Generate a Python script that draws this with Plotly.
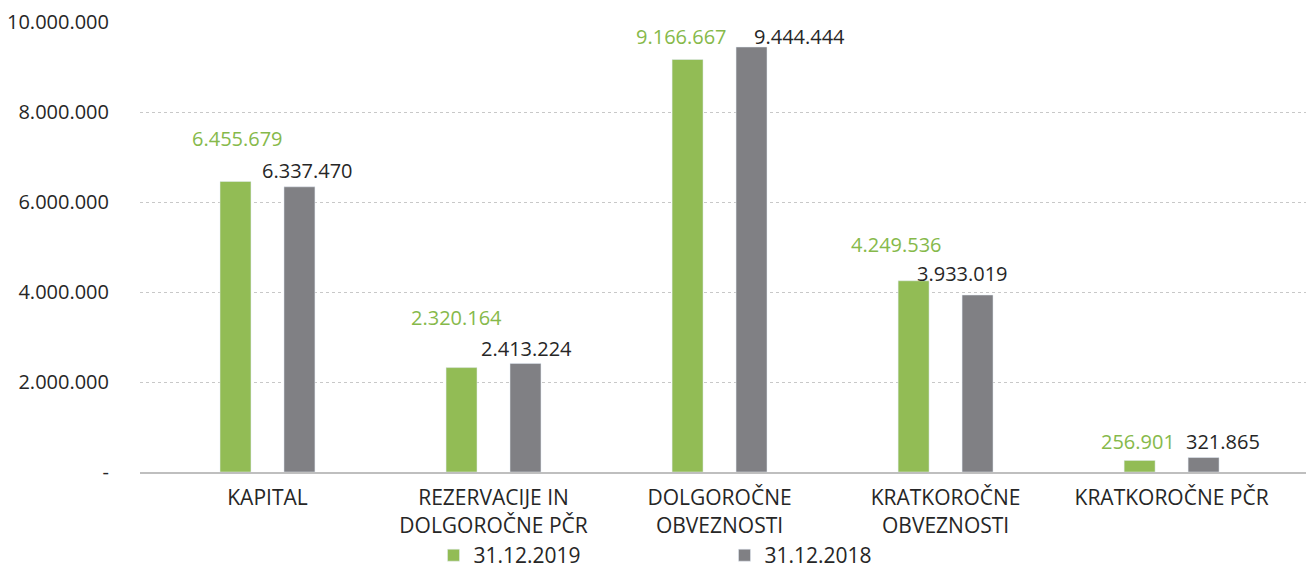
import plotly.graph_objects as go

categories = ["KAPITAL", "REZERVACIJE IN<br>DOLGOROČNE PČR", "DOLGOROČNE<br>OBVEZNOSTI",
              "KRATKOROČNE<br>OBVEZNOSTI", "KRATKOROČNE PČR"]
values_2019 = [6455679, 2320164, 9166667, 4249536, 256901]
values_2018 = [6337470, 2413224, 9444444, 3933019, 321865]
series_names = ["31.12.2019", "31.12.2018"]

tick_vals = [0, 2000000, 4000000, 6000000, 8000000, 10000000]
tick_text = ["-", "2.000.000", "4.000.000", "6.000.000", "8.000.000", "10.000.000"]

# manual label nudges (px), like the hand-placed labels in the original
shift_2019 = [(-30, 43), (-37, 50), (-38, 23), (-49, 36), (-34, 19)]
shift_2018 = [(40, 16), (33, 15), (80, 11), (17, 22), (51, 16)]

GREEN = "#92bc55"
GREY = "#808084"
FONT = "Open Sans"


def fmt(v):
    return f"{v:,}".replace(",", ".")


fig = go.Figure()
fig.add_trace(go.Bar(x=categories, y=values_2019, name=series_names[0], marker_color=GREEN))
fig.add_trace(go.Bar(x=categories, y=values_2018, name=series_names[1], marker_color=GREY))

for vals, shifts, col in [(values_2019, shift_2019, "#86b94a"), (values_2018, shift_2018, "#262626")]:
    for cat, v, (dx, dy) in zip(categories, vals, shifts):
        fig.add_annotation(x=cat, y=v, text=fmt(v), showarrow=False, xshift=dx, yshift=dy,
                           yanchor="middle", font=dict(family=FONT, size=20, color=col))

# page body keeps an 8px default margin, so the figure is sized a bit smaller
fig.update_layout(
    width=1306, height=561,
    margin=dict(l=132, r=0, t=14, b=97),
    plot_bgcolor="white", paper_bgcolor="white",
    font=dict(family=FONT, size=20, color="#262626"),
    barmode="group", bargap=0.434, bargroupgap=0.516,
    legend=dict(orientation="h", x=0.25, xanchor="left", yref="container", y=0.024,
                yanchor="middle", entrywidth=246, font=dict(size=21)),
)
fig.update_xaxes(showline=True, linecolor="#bfbfbf", linewidth=2, range=[-0.564, 4.63],
                 tickfont=dict(size=21), ticklabelstandoff=6, automargin=False)
fig.update_yaxes(range=[0, 10000000], tickvals=tick_vals, ticktext=tick_text,
                 showgrid=True, gridcolor="#c8c8c8", griddash="dot", gridwidth=1,
                 zeroline=False, tickfont=dict(size=20), ticklabelstandoff=30, automargin=False)

fig.write_html("out.html")
